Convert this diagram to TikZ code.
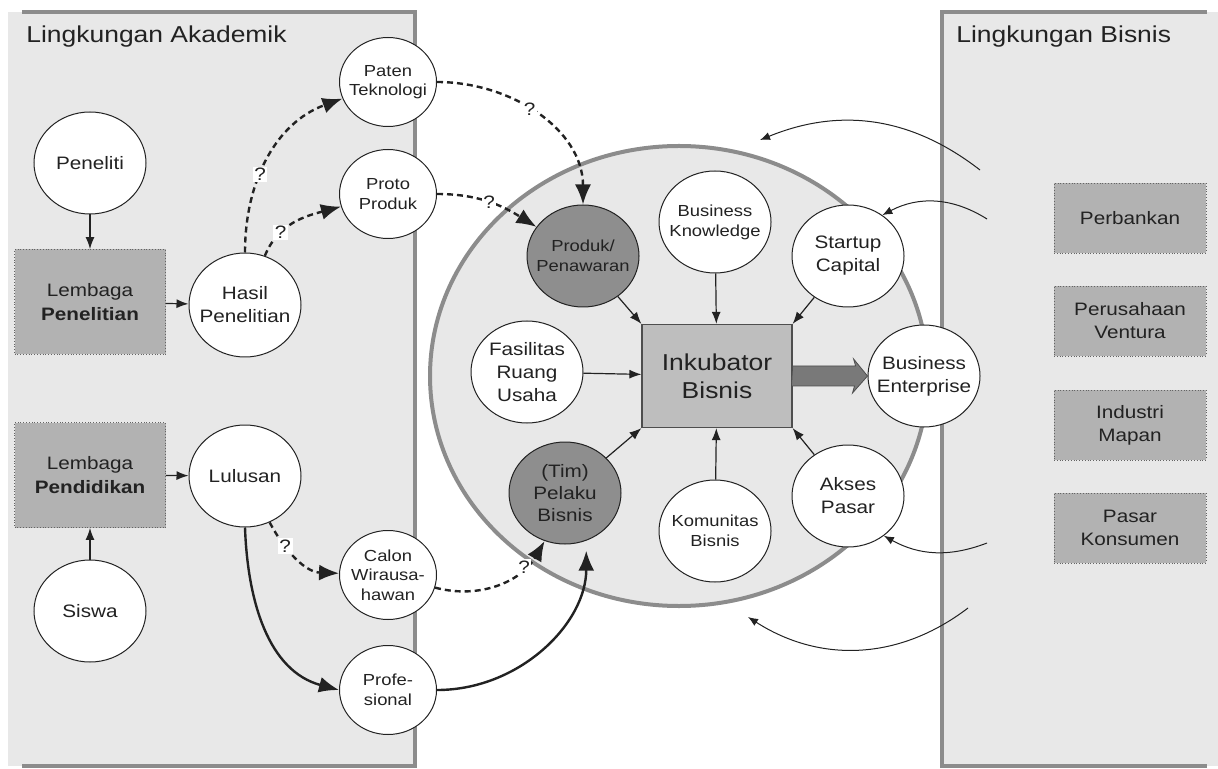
\documentclass[tikz,border=0pt]{standalone}
\usepackage{fontspec}
\setmainfont{Liberation Sans}[FakeStretch=1.15]
\usepackage{tikz}
\usetikzlibrary{arrows.meta}
\usetikzlibrary{shapes.geometric}
\definecolor{latar}{HTML}{E8E8E8}
\definecolor{tepi}{HTML}{8C8C8C}
\definecolor{kotak}{HTML}{B2B2B2}
\definecolor{gelap}{HTML}{8E8E8E}
\definecolor{tinta}{HTML}{222222}
\tikzset{
  circ/.style={ellipse,draw=tinta,fill=white,line width=0.5pt,inner sep=-7pt,
    minimum width=56pt,minimum height=51pt,align=center,text=tinta,
    font=\fontsize{9}{11.5}\selectfont},
  kecil/.style={circ,minimum width=48.5pt,minimum height=44.5pt,
    font=\fontsize{8}{9.8}\selectfont},
  gelapcirc/.style={circ,fill=gelap},
  lembaga/.style={rectangle,draw=tinta!70,densely dotted,fill=kotak,
    minimum width=75.5pt,minimum height=52.5pt,align=center,text=tinta,
    font=\fontsize{9}{12}\selectfont},
  mitra/.style={lembaga,minimum width=76pt,minimum height=35pt,
    font=\fontsize{9}{11.5}\selectfont},
  inkubator/.style={rectangle,draw=tinta!80,fill=kotak!85!white,line width=0.6pt,
    minimum width=75pt,minimum height=51.5pt,align=center,text=tinta,
    font=\fontsize{11.5}{14}\selectfont},
  tanya/.style={fill=white,inner sep=0.8pt,text=tinta,
    font=\fontsize{9}{9}\selectfont},
  judul/.style={anchor=base west,inner sep=0pt,text=tinta,
    font=\fontsize{11.5}{13}\selectfont},
  tipis/.style={->,>={Latex[length=6pt,width=4.5pt]},line width=0.6pt,tinta},
  putus/.style={->,>={Latex[length=10pt,width=8pt]},line width=1.2pt,tinta,
    dash pattern=on 3pt off 2pt},
  tebal/.style={->,>={Latex[length=10pt,width=8pt]},line width=1.2pt,tinta},
  lengkung/.style={->,>={Latex[length=5pt,width=4pt]},line width=0.5pt,tinta}
}

\begin{document}
\begin{tikzpicture}[x=0.5pt,y=-0.5pt]
  \useasboundingbox (0,0) rectangle (1218,769);

  % lingkungan akademik dan bisnis
  \fill[latar] (8,12) rectangle (415,766);
  \draw[tepi,line width=2pt] (22,12) -- (415,12) -- (415,766) -- (22,766);
  \fill[latar] (942,12) rectangle (1218,766);
  \draw[tepi,line width=2pt] (1207,12) -- (942,12) -- (942,766) -- (1207,766);
  \node[judul]
    (JudulAkademik) at (26,43) {Lingkungan Akademik};
  \node[judul]
    (JudulBisnis) at (956,43) {Lingkungan Bisnis};

  % zona inkubasi
  \node[ellipse,draw=tepi,fill=latar,line width=2pt,
        minimum width=249pt,minimum height=230pt]
    (Zona) at (679,376) {};

  \node[circ]
    (Peneliti) at (90,163) {Peneliti};
  \node[lembaga]
    (LembagaPenelitian) at (90,302) {Lembaga\\\textbf{Penelitian}};
  \node[circ,minimum height=52pt]
    (Hasil) at (245,305) {Hasil\\Penelitian};
  \node[kecil]
    (Paten) at (388,82) {Paten\\Teknologi};
  \node[kecil]
    (Proto) at (388,194) {Proto\\Produk};
  \node[lembaga]
    (LembagaPendidikan) at (90,475) {Lembaga\\\textbf{Pendidikan}};
  \node[circ]
    (Lulusan) at (245,476) {Lulusan};
  \node[circ]
    (Siswa) at (90,611) {Siswa};
  \node[kecil]
    (Calon) at (388,575) {Calon\\Wirausa-\\hawan};
  \node[kecil]
    (Profesional) at (388,690) {Profe-\\sional};

  \node[gelapcirc,font=\fontsize{8}{10}\selectfont]
    (Produk) at (583,256) {Produk/\\Penawaran};
  \node[circ,font=\fontsize{8}{10}\selectfont]
    (Knowledge) at (715,222) {Business\\Knowledge};
  \node[circ]
    (Startup) at (848,256) {Startup\\Capital};
  \node[circ]
    (Fasilitas) at (527,372) {Fasilitas\\Ruang\\Usaha};
  \node[inkubator]
    (Inkubator) at (717,376) {Inkubator\\Bisnis};
  \node[circ]
    (Enterprise) at (924,376) {Business\\Enterprise};
  \node[gelapcirc,font=\fontsize{9}{11}\selectfont]
    (Pelaku) at (565,493) {(Tim)\\Pelaku\\Bisnis};
  \node[circ,font=\fontsize{8}{10}\selectfont]
    (Komunitas) at (715,531) {Komunitas\\Bisnis};
  \node[circ]
    (Akses) at (848,496) {Akses\\Pasar};

  \node[mitra]
    (Perbankan) at (1130,218) {Perbankan};
  \node[mitra]
    (Ventura) at (1130,321) {Perusahaan\\Ventura};
  \node[mitra]
    (Industri) at (1130,425) {Industri\\Mapan};
  \node[mitra]
    (Pasar) at (1130,528) {Pasar\\Konsumen};

  \coordinate (ArusA) at (980,170);
  \coordinate (ArusB) at (987,219);
  \coordinate (ArusC) at (987,543);
  \coordinate (ArusD) at (968,608);
  \coordinate (ZonaAtas) at (760,140);
  \coordinate (ZonaBawah) at (748,617);

  \path[tipis]
    (Peneliti) edge (LembagaPenelitian)
    (LembagaPenelitian) edge (Hasil)
    (Siswa) edge (LembagaPendidikan)
    (LembagaPendidikan) edge (Lulusan)
    (Produk) edge (Inkubator.north west)
    (Knowledge) edge (Inkubator)
    (Startup) edge (Inkubator.north east)
    (Fasilitas) edge (Inkubator)
    (Pelaku) edge (Inkubator.south west)
    (Komunitas) edge (Inkubator)
    (Akses) edge (Inkubator.south east);

  \path[putus]
    (Hasil) edge[out=90,in=200] node[tanya,pos=0.4] {?} (Paten)
    (Hasil) edge[out=68,in=195] node[tanya,pos=0.3] {?} (Proto)
    (Lulusan) edge[out=-62,in=178] node[tanya,pos=0.3] {?} (Calon)
    (Paten) edge[out=0,in=90] node[tanya,pos=0.45] {?} (Produk)
    (Proto) edge[out=0,in=148] node[tanya,pos=0.5] {?} (Produk)
    (Calon) edge[out=-15,in=-120] node[tanya,pos=0.75] {?} (Pelaku.-113);

  \path[tebal]
    (Lulusan.south) edge[out=-88,in=165] (Profesional.west)
    (Profesional.east) edge[out=0,in=-90,shorten >=5pt] (Pelaku.-66);

  \path[lengkung]
    (ArusA) edge[bend right=30] (ZonaAtas)
    (ArusB) edge[bend right=30] (Startup.50)
    (ArusC) edge[bend left=25] (Akses.-48)
    (ArusD) edge[bend left=35] (ZonaBawah);

  \draw[fill=gelap!85!black,draw=tinta!80,line width=0.4pt]
    (Inkubator.east) ++(0,-10) -- ++(63,0) -- ++(-2,-7)
    -- (Enterprise.west) -- ++(-15,17) -- ++(2,-7) -- ++(-63,0) -- cycle;

\end{tikzpicture}
\end{document}
